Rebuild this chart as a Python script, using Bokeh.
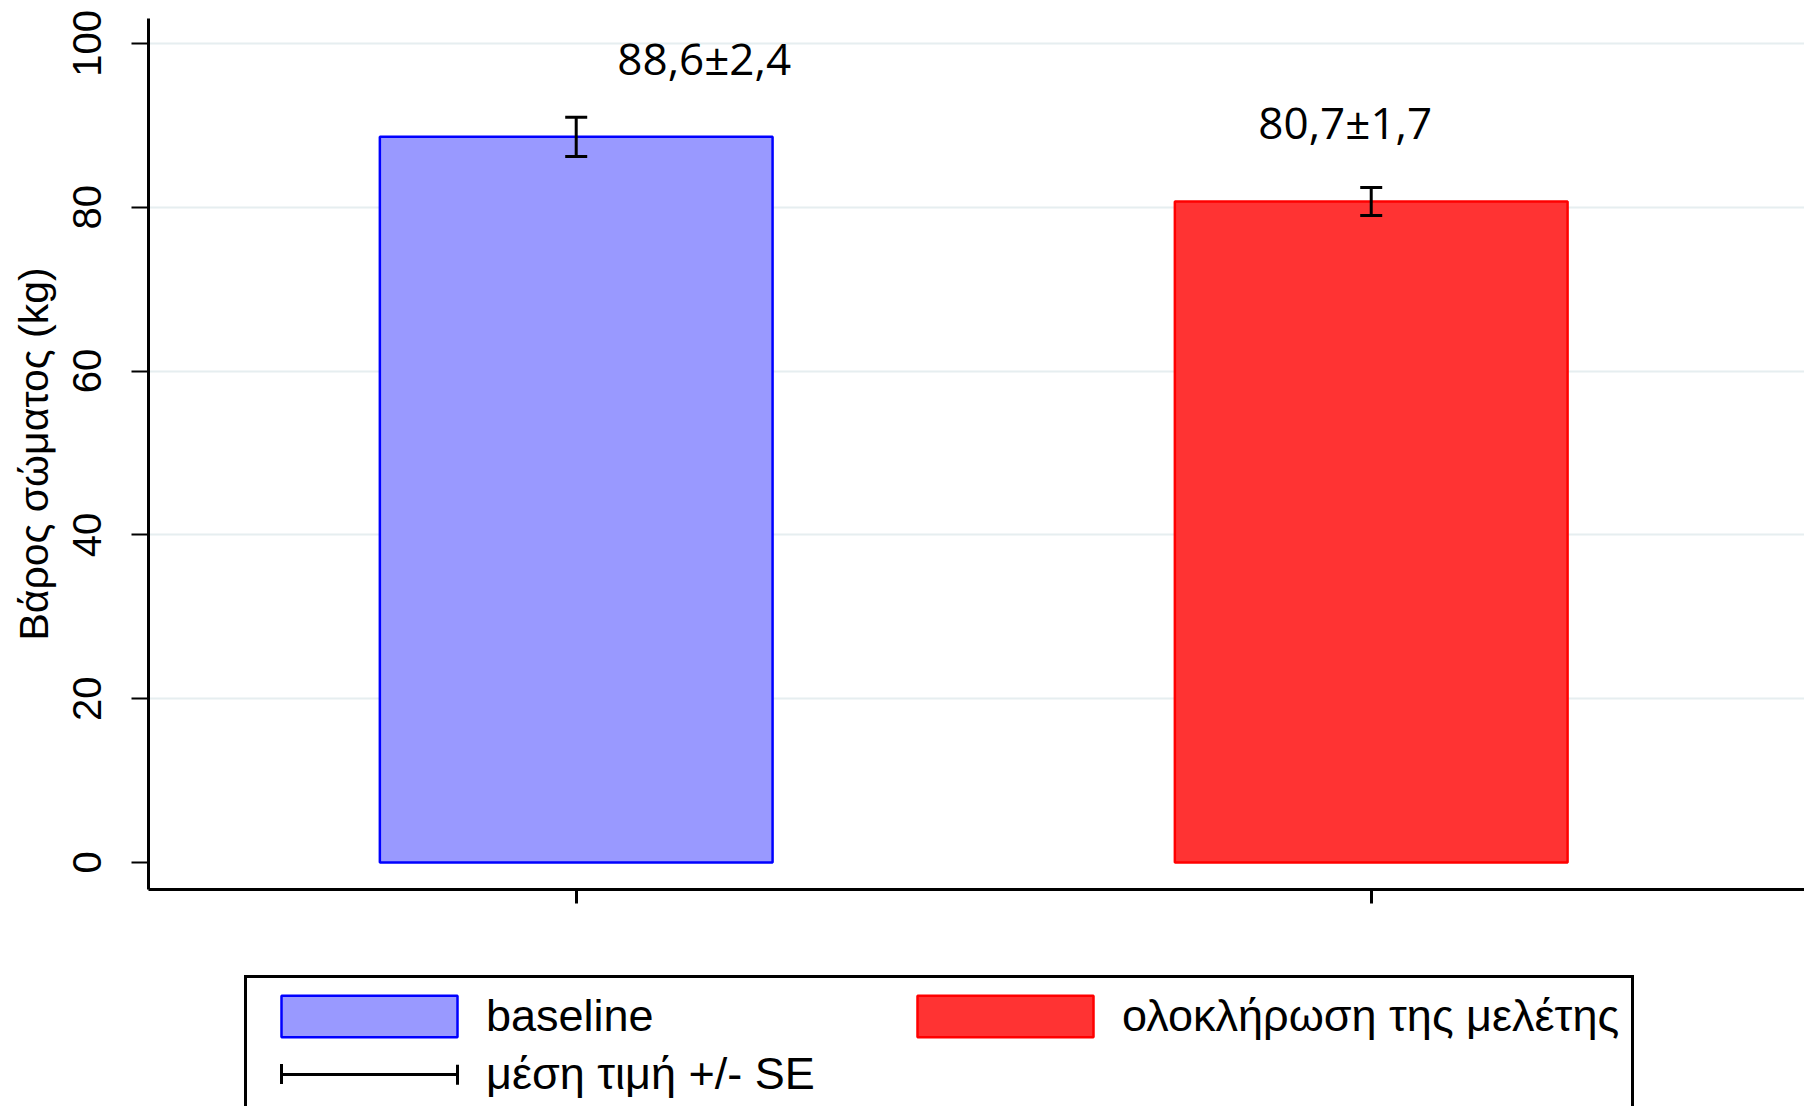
import numpy as np
from bokeh.plotting import figure
from bokeh.layouts import column
from bokeh.models import Range1d, FixedTicker, ColumnDataSource, Legend, LegendItem
from bokeh.embed import file_html
from bokeh.resources import INLINE
from bokeh.core.properties import value

# ---- data ----
categories = ["baseline", "ολοκλήρωση της μελέτης"]
means = [88.6, 80.7]
se = [2.4, 1.7]
y_ticks = [0, 20, 40, 60, 80, 100]
y_title = "Βάρος σώματος (kg)"
errbar_label = "μέση τιμή +/- SE"

# ---- styles ----
fill_colors = ["#9999FF", "#FF3333"]
line_colors = ["#0000FF", "#FF0000"]
label_dx = [128, -26]      # screen px shift of the value labels
label_dy = [-59, -66]      # screen px above the error bar top
AXFONT = "Liberation Sans"
W = 1804
H_MAIN = 919
H_LEG = 1106 - H_MAIN

x = np.arange(1, len(categories) + 1)
m = np.array(means)
s = np.array(se)
fmt = lambda v: f"{v:.1f}".replace(".", ",")
labels = [fmt(a) + "±" + fmt(b) for a, b in zip(means, se)]

src = ColumnDataSource(dict(
    x=x, top=m, lower=m - s, upper=m + s,
    fill=fill_colors, line=line_colors, label=labels,
    dx=label_dx, dy=label_dy,
))

p = figure(width=W, height=H_MAIN, output_backend="svg", toolbar_location=None,
           x_range=Range1d(0.462, 2.545), y_range=Range1d(-3.3, 103.05),
           min_border_left=148, min_border_right=0, min_border_top=18,
           min_border_bottom=H_MAIN - 889)
p.outline_line_color = None
p.background_fill_color = "white"
p.border_fill_color = "white"

p.vbar(x="x", top="top", bottom=0, width=0.494, source=src,
       fill_color="fill", line_color="line", line_width=2.5)
p.segment(x0="x", y0="lower", x1="x", y1="upper", source=src,
          line_color="black", line_width=3)
p.scatter(x="x", y="upper", source=src, marker="dash", size=22,
          line_color="black", line_width=3)
p.scatter(x="x", y="lower", source=src, marker="dash", size=22,
          line_color="black", line_width=3)

p.text(x="x", y="upper", text="label", source=src, x_offset="dx", y_offset="dy",
       text_align="center", text_baseline="alphabetic",
       text_font=value("Open Sans"), text_font_size="44px", text_color="black")

# y axis
p.yaxis.ticker = FixedTicker(ticks=y_ticks)
p.yaxis.major_label_orientation = "vertical"
p.yaxis.axis_line_width = 3
p.yaxis.axis_line_color = "black"
p.yaxis.major_tick_out = 17
p.yaxis.major_tick_in = 0
p.yaxis.major_tick_line_width = 2
p.yaxis.minor_tick_line_color = None
p.yaxis.major_label_text_font = AXFONT
p.yaxis.major_label_text_font_size = "40px"
p.yaxis.major_label_text_color = "black"
p.yaxis.major_label_standoff = 30
p.yaxis.axis_label = y_title
p.yaxis.axis_label_text_font = AXFONT
p.yaxis.axis_label_text_font_size = "41px"
p.yaxis.axis_label_text_font_style = "normal"
p.yaxis.axis_label_text_color = "black"
p.yaxis.axis_label_standoff = 14

# x axis
p.xaxis.ticker = FixedTicker(ticks=list(x))
p.xaxis.major_label_overrides = {int(v): "" for v in x}
p.xaxis.major_label_text_font_size = "8px"
p.xaxis.major_label_standoff = 0
p.xaxis.axis_line_width = 3
p.xaxis.axis_line_color = "black"
p.xaxis.major_tick_out = 14
p.xaxis.major_tick_in = 0
p.xaxis.major_tick_line_width = 3
p.xaxis.minor_tick_line_color = None

# grid
p.xgrid.grid_line_color = None
p.ygrid.ticker = FixedTicker(ticks=[t for t in y_ticks if t != 0])
p.ygrid.grid_line_color = "#E6EEF0"
p.ygrid.grid_line_width = 2

# ---- legend strip below the chart (legend-only renderers, not drawn) ----
leg_fig = figure(width=W, height=H_LEG, output_backend="svg", toolbar_location=None,
                 x_range=Range1d(100, 101), y_range=Range1d(1000, 1100),
                 x_axis_location=None, y_axis_location=None,
                 min_border_left=0, min_border_right=0, min_border_top=0,
                 min_border_bottom=0)
leg_fig.outline_line_color = None
leg_fig.grid.grid_line_color = None
leg_fig.background_fill_color = "white"
leg_fig.border_fill_color = "white"

lbars = leg_fig.vbar(x="x", top="top", bottom=0, width=0.494, source=src,
                     fill_color="fill", line_color="line", line_width=2.5,
                     visible=False)
# horizontal bar of the "mean +/- SE" key, trimmed to the inner 80 %
lseg = leg_fig.segment(x0="x", y0="lower", x1="x", y1="upper", source=src,
                       line_color="black", line_width=3,
                       line_dash="176 44", line_dash_offset=198, visible=False)
# end caps of the key: only the middle of the two short sides of the box
lcaps = leg_fig.vbar(x="x", top="top", bottom=0, width=0.494, source=src,
                     fill_color=None, line_color="black", line_width=3,
                     line_dash="0 187 20 198 20 10", visible=False)

legend = Legend(
    items=[LegendItem(label=categories[0], renderers=[lbars], index=0),
           LegendItem(label=categories[1], renderers=[lbars], index=1),
           LegendItem(label=errbar_label, renderers=[lseg, lcaps], index=0)],
    location=(96, -9), orientation="horizontal", ncols=2,
    glyph_width=220, glyph_height=52, label_standoff=7, label_width=403,
    spacing=6, padding=12, margin=0,
    border_line_color="black", border_line_width=3, border_line_alpha=1.0,
    background_fill_color="white", background_fill_alpha=1.0,
    inactive_fill_alpha=0.0,
    label_text_font="Liberation Sans", label_text_font_size="45px",
    label_text_color="black",
)
leg_fig.add_layout(legend)

layout = column(p, leg_fig, spacing=0)
open("out.html", "w").write(file_html(layout, INLINE))
